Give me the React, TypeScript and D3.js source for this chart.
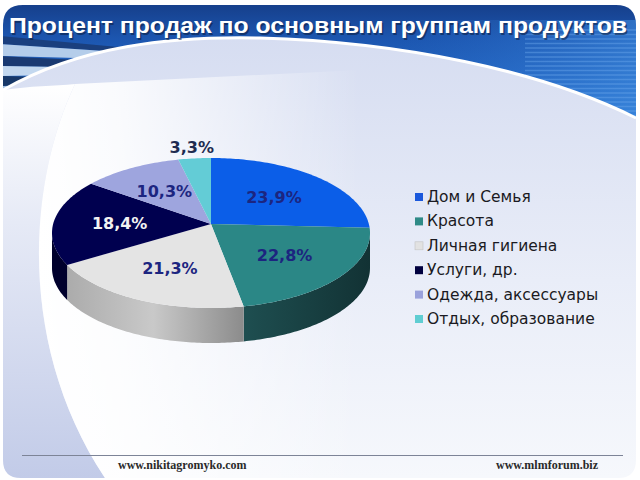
import React from 'react';
import * as d3 from 'd3';

const title = 'Процент продаж по основным группам продуктов';
const categories = ['Дом и Семья', 'Красота', 'Личная гигиена', 'Услуги, др.', 'Одежда, аксессуары', 'Отдых, образование'];
const values = [23.9, 22.8, 21.3, 18.4, 10.3, 3.3];
const valueLabels = ['23,9%', '22,8%', '21,3%', '18,4%', '10,3%', '3,3%'];
const topColors = ['#0b5ee8', '#2b8786', '#e4e4e4', '#00004f', '#9ea5de', '#63ccd6'];
const sideColors = ['#0a3f9c', 'url(#tealSide)', 'url(#graySide)', '#00002c', '#6b72a8', '#3f9aa2'];
const legendColors = ['#1a58dc', '#2e8a87', '#e2e2e2', '#00003f', '#9aa2dc', '#5fcdd2'];
const labelColors = ['#1c2580', '#1c2580', '#1c2580', '#f2f2f2', '#1c2580', '#1e2b50'];
const footerLeft = 'www.nikitagromyko.com';
const footerRight = 'www.mlmforum.biz';

const W = 640;
const H = 480;
const cx = 211;
const cy = 233;
const rx = 159;
const ry = 75;
const depth = 35;
const apex: [number, number] = [211, 224];

const rim = (t: number, dy = 0): [number, number] => [cx + rx * Math.sin(t), cy - ry * Math.cos(t) + dy];

const arcPoints = (a0: number, a1: number, dy = 0): [number, number][] => {
  const n = Math.max(2, Math.ceil(Math.abs(a1 - a0) / (Math.PI / 180)));
  return d3.range(n + 1).map((i) => rim(a0 + ((a1 - a0) * i) / n, dy));
};

const line = d3.line<[number, number]>().curve(d3.curveLinearClosed);

export default function App() {
  const arcs = d3.pie<number>().sort(null).value((d) => d)(values);

  const sides = arcs
    .map((a, i) => {
      const s = Math.max(a.startAngle, Math.PI / 2);
      const e = Math.min(a.endAngle, (3 * Math.PI) / 2);
      if (e <= s) return null;
      const pts = [...arcPoints(s, e), ...arcPoints(e, s, depth)];
      return <path key={'s' + i} d={line(pts) || ''} fill={sideColors[i]} />;
    })
    .filter(Boolean);

  const tops = arcs.map((a, i) => {
    const pts: [number, number][] = [apex, ...arcPoints(a.startAngle, a.endAngle)];
    return <path key={'t' + i} d={line(pts) || ''} fill={topColors[i]} />;
  });

  const labels = arcs.map((a, i) => {
    const mid = (a.startAngle + a.endAngle) / 2;
    const r = rim(mid);
    const f = values[i] < 5 ? 1.17 : 0.58;
    const x = apex[0] + f * (r[0] - apex[0]);
    const y = apex[1] + f * (r[1] - apex[1]);
    return (
      <text
        key={'l' + i}
        x={x}
        y={y}
        textAnchor="middle"
        dominantBaseline="central"
        fontFamily="DejaVu Sans, Verdana, sans-serif"
        fontWeight="bold"
        fontSize={16}
        fill={labelColors[i]}
      >
        {valueLabels[i]}
      </text>
    );
  });

  const ly = d3.scalePoint<string>().domain(categories).range([197, 319]);

  const arcTop = 'M 3,90 C 80,46 170,36 260,38 C 400,42 540,70 636,118';
  const bodyPath = arcTop + ' L 636,460 Q 636,478 618,478 L 21,478 Q 3,478 3,460 Z';

  const blinds = d3.range(30, 118, 4.5);

  return (
    <svg width={W} height={H} style={{ position: 'absolute', left: 0, top: 0 }}>
      <defs>
        <linearGradient id="hdr" x1="0" y1="0" x2="0" y2="1">
          <stop offset="0" stopColor="#153c86" />
          <stop offset="0.3" stopColor="#1c56b0" />
          <stop offset="1" stopColor="#2e7ad6" />
        </linearGradient>
        <linearGradient id="hdrR" x1="0" y1="0" x2="1" y2="0">
          <stop offset="0" stopColor="#2a70d0" stopOpacity="0" />
          <stop offset="1" stopColor="#3f8ce0" stopOpacity="0.6" />
        </linearGradient>
        <linearGradient id="body" x1="0" y1="0" x2="0" y2="1">
          <stop offset="0" stopColor="#d6ddf1" />
          <stop offset="0.55" stopColor="#e9edf8" />
          <stop offset="1" stopColor="#f6f8fc" />
        </linearGradient>
        <linearGradient id="swoop" x1="0" y1="0" x2="1" y2="0">
          <stop offset="0" stopColor="#ffffff" stopOpacity="1" />
          <stop offset="0.25" stopColor="#ffffff" stopOpacity="0.85" />
          <stop offset="1" stopColor="#ffffff" stopOpacity="0" />
        </linearGradient>
        <linearGradient id="band" x1="0" y1="0" x2="0" y2="1">
          <stop offset="0" stopColor="#ffffff" />
          <stop offset="0.35" stopColor="#e6eaf6" />
          <stop offset="1" stopColor="#c2cbe8" />
        </linearGradient>
        <linearGradient id="graySide" gradientUnits="userSpaceOnUse" x1="60" y1="0" x2="246" y2="0">
          <stop offset="0" stopColor="#a9a9a9" />
          <stop offset="0.5" stopColor="#c9c9c9" />
          <stop offset="1" stopColor="#8a8a8a" />
        </linearGradient>
        <linearGradient id="tealSide" gradientUnits="userSpaceOnUse" x1="246" y1="0" x2="370" y2="0">
          <stop offset="0" stopColor="#1e4e50" />
          <stop offset="1" stopColor="#123234" />
        </linearGradient>
        <clipPath id="hdrClip">
          <path d="M 3,25 Q 3,5 23,5 L 616,5 Q 636,5 636,25 L 636,125 L 3,125 Z" />
        </clipPath>
      </defs>

      <rect x={0} y={0} width={W} height={H} fill="#ffffff" />

      {/* header */}
      <g clipPath="url(#hdrClip)">
        <rect x={0} y={0} width={W} height={130} fill="url(#hdr)" />
        <rect x={400} y={20} width={240} height={110} fill="url(#hdrR)" />
        {blinds.map((y) => (
          <line key={y} x1={525} x2={640} y1={y} y2={y} stroke="#6aa6ea" strokeOpacity={0.45} strokeWidth={1.4} />
        ))}
        <polygon points="0,36 150,50 150,54 0,44" fill="#1a3f7e" />
        <polygon points="0,44 150,54 150,60 0,56" fill="#b4cdea" />
        <polygon points="0,56 120,62 120,68 0,66" fill="#1a3a72" />
        <polygon points="0,66 120,68 120,74 0,76" fill="#c3d8ef" />
        <polygon points="0,76 80,78 80,84 0,86" fill="#173868" />
        <polygon points="0,86 80,84 80,92 0,96" fill="#9fbfe3" />
      </g>

      {/* body */}
      <path d={bodyPath} fill="url(#body)" />
      <path d="M 3,90 C 30,86 55,86 75,84 C 25,190 20,350 105,478 L 21,478 Q 3,478 3,460 Z" fill="url(#band)" />
      <path d="M 75,84 C 25,190 20,350 105,478 L 360,478 L 360,70 Z" fill="url(#swoop)" />
      <path d={arcTop} fill="none" stroke="#ffffff" strokeWidth={3} />

      {/* title */}
      <text x={10.5} y={34.5} fontFamily="Liberation Sans, Arial, sans-serif" fontWeight="bold" fontSize={22} fill="#0a1a3a" fillOpacity={0.55} textLength={618} lengthAdjust="spacingAndGlyphs">
        {title}
      </text>
      <text x={9} y={33} fontFamily="Liberation Sans, Arial, sans-serif" fontWeight="bold" fontSize={22} fill="#ffffff" textLength={618} lengthAdjust="spacingAndGlyphs">
        {title}
      </text>

      {/* pie */}
      <g>{sides}</g>
      <g>{tops}</g>
      <g>{labels}</g>

      {/* legend */}
      <g>
        {categories.map((c, i) => {
          const y = ly(c) as number;
          return (
            <g key={c}>
              <rect x={415} y={y - 4} width={8} height={8} fill={legendColors[i]} stroke={i === 2 ? '#c4c4c4' : 'none'} strokeWidth={0.6} />
              <text x={427} y={y} dominantBaseline="central" fontFamily="DejaVu Sans, Verdana, sans-serif" fontSize={15.5} fill="#1a1a22">
                {c}
              </text>
            </g>
          );
        })}
      </g>

      {/* footer */}
      <line x1={22} x2={623} y1={455.5} y2={455.5} stroke="#7d8497" strokeWidth={1} />
      <text x={118} y={469} fontFamily="Liberation Serif, Times New Roman, serif" fontWeight="bold" fontSize={12} fill="#2a2a2a">
        {footerLeft}
      </text>
      <text x={598} y={469} textAnchor="end" fontFamily="Liberation Serif, Times New Roman, serif" fontWeight="bold" fontSize={12} fill="#2a2a2a">
        {footerRight}
      </text>
    </svg>
  );
}
